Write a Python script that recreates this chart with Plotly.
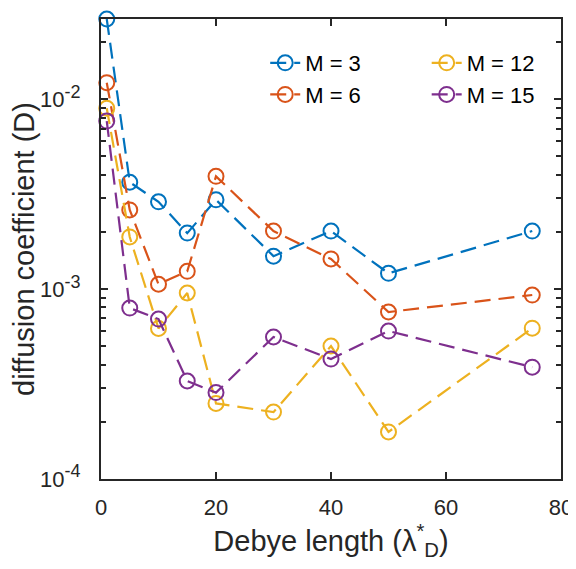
import numpy as np
import plotly.graph_objects as go

debye = [1, 5, 10, 15, 20, 30, 40, 50, 75]
d_m3 = [0.0264, 0.00365, 0.00288, 0.00197, 0.00295, 0.00149, 0.00202, 0.00121, 0.00202]
d_m6 = [0.0122, 0.00261, 0.00106, 0.00124, 0.00392, 0.00202, 0.00144, 0.000757, 0.00093]
d_m12 = [0.00895, 0.00188, 0.00062, 0.000953, 0.000250, 0.000225, 0.000501, 0.000177, 0.000622]
d_m15 = [0.00766, 0.000794, 0.000695, 0.000328, 0.000285, 0.000559, 0.000428, 0.000601, 0.000388]
series_names = ["M = 3", "M = 6", "M = 12", "M = 15"]
colors = ["#0072BD", "#D95319", "#EDB120", "#7E2F8E"]
x_ticks = [0, 20, 40, 60, 80]
y_ticks = [1e-4, 1e-3, 1e-2]
y_exponents = ["-4", "-3", "-2"]

FONT = "Liberation Sans, Arial, sans-serif"
TXT = "#262626"

y_ticktext = ["10<sup><span style='font-size:18px'>%s</span></sup>" % e for e in y_exponents]

fig = go.Figure()
all_series = [d_m3, d_m6, d_m12, d_m15]
legends = ["legend", "legend", "legend2", "legend2"]
for name, ys, c, lg in zip(series_names, all_series, colors, legends):
    fig.add_trace(go.Scatter(
        x=debye, y=ys, name=name, mode="lines+markers",
        line=dict(color=c, width=2.2, dash="16px,8px"),
        marker=dict(symbol="circle-open", size=15, color=c, line=dict(width=2, color=c)),
        legend=lg, cliponaxis=False,
    ))

minor_vals = [m * 10.0 ** e for e in (-4, -3, -2) for m in range(2, 10)]

# the page body has an 8px default margin, so the figure is sized to fit the window
fig.update_layout(
    width=568, height=561,
    margin=dict(l=93, r=15, t=11, b=90),
    plot_bgcolor="white", paper_bgcolor="white",
    font=dict(family=FONT, size=22, color=TXT),
    showlegend=True,
    legend=dict(x=0.357, y=0.95, xanchor="left", yanchor="top", bgcolor="rgba(0,0,0,0)",
                font=dict(size=22, color="black"), tracegroupgap=0),
    legend2=dict(x=0.708, y=0.95, xanchor="left", yanchor="top", bgcolor="rgba(0,0,0,0)",
                 font=dict(size=22, color="black"), tracegroupgap=0),
    xaxis=dict(
        range=[0, 80], tickmode="array", tickvals=x_ticks, ticks="inside", ticklen=7, tickwidth=2,
        tickcolor=TXT, showline=True, linecolor=TXT, linewidth=2, mirror="ticks",
        showgrid=False, zeroline=False, tickfont=dict(size=22, color=TXT), ticklabelstandoff=8,
        automargin=False,
        title=dict(text="Debye length (λ<sup>*</sup><sub>D</sub>)", font=dict(size=29, color=TXT), standoff=10),
    ),
    yaxis=dict(
        type="log", range=[-4, float(np.log10(max(d_m3)))],
        tickmode="array", tickvals=y_ticks, ticktext=y_ticktext, ticks="inside", ticklen=7, tickwidth=2,
        tickcolor=TXT, showline=True, linecolor=TXT, linewidth=2, mirror="ticks",
        showgrid=False, zeroline=False, tickfont=dict(size=22, color=TXT), ticklabelstandoff=14,
        automargin=False,
        minor=dict(tickmode="array", tickvals=minor_vals, ticks="inside", ticklen=5,
                   tickwidth=1.5, tickcolor=TXT, showgrid=False),
        title=dict(text="diffusion coefficient (D)", font=dict(size=29, color=TXT), standoff=0),
    ),
)

fig.write_html("out.html")
